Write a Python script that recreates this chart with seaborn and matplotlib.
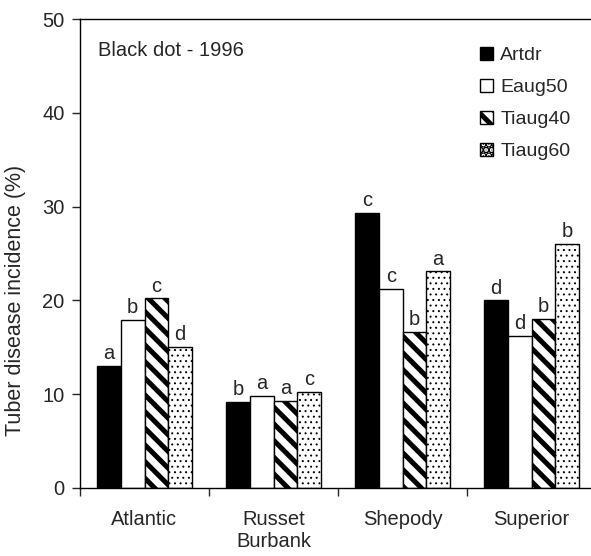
import matplotlib
matplotlib.use("Agg")
import matplotlib.pyplot as plt
import seaborn as sns
import pandas as pd

cultivars = ["Atlantic", "Russet\nBurbank", "Shepody", "Superior"]
treatments = ["Artdr", "Eaug50", "Tiaug40", "Tiaug60"]

artdr = [13.0, 9.2, 29.3, 20.0]
eaug50 = [17.9, 9.8, 21.2, 16.2]
tiaug40 = [20.2, 9.3, 16.6, 18.0]
tiaug60 = [15.0, 10.2, 23.1, 26.0]

letters_artdr = ["a", "b", "c", "d"]
letters_eaug50 = ["b", "a", "c", "d"]
letters_tiaug40 = ["c", "a", "b", "b"]
letters_tiaug60 = ["d", "c", "a", "b"]


def main():
    values = [artdr, eaug50, tiaug40, tiaug60]
    rows = []
    for t, vals in zip(treatments, values):
        for c, v in zip(cultivars, vals):
            rows.append({"cultivar": c, "treatment": t, "incidence": v})
    df = pd.DataFrame(rows)

    sns.set_style("ticks")
    plt.rcParams["font.family"] = ["Liberation Sans", "DejaVu Sans"]
    plt.rcParams["hatch.linewidth"] = 3.6

    fig = plt.figure(figsize=(5.91, 5.56), dpi=100)
    ax = fig.add_axes([80 / 591, 68.3 / 556, 516 / 591, 468.4 / 556])

    sns.barplot(data=df, x="cultivar", y="incidence", hue="treatment",
                order=cultivars, hue_order=treatments,
                palette=["black", "white", "white", "white"],
                width=0.73, edgecolor="black", linewidth=1,
                errorbar=None, ax=ax, legend=False)

    hatches = [None, None, "\\\\", "..."]
    for cont, h in zip(ax.containers, hatches):
        for bar in cont:
            if h:
                bar.set_hatch(h)
            if h == "..." and hasattr(bar, "set_hatch_linewidth"):
                bar.set_hatch_linewidth(0.7)

    letters = [letters_artdr, letters_eaug50, letters_tiaug40, letters_tiaug60]
    for cont, labs in zip(ax.containers, letters):
        ax.bar_label(cont, labels=labs, padding=2, fontsize=14.5)

    ax.set_ylim(0, 50)
    ax.set_xlim(-0.5, 3.5)
    ax.set_yticks(range(0, 51, 10))
    ax.set_xticks([-0.5, 0.5, 1.5, 2.5, 3.5])
    ax.set_xticklabels([])
    ax.set_xticks(range(4), minor=True)
    ax.set_xticklabels(cultivars, minor=True, fontsize=14.5)
    ax.tick_params(axis="x", which="minor", length=0, pad=16)
    ax.tick_params(axis="x", which="major", length=6, width=1, direction="out")
    ax.tick_params(axis="y", length=6, width=1, labelsize=14.5, pad=5)
    ax.set_xlabel("")
    ax.set_ylabel("Tuber disease incidence (%)", fontsize=15.5)
    ax.yaxis.set_label_coords(-0.105, 0.40)

    for side in ["left", "bottom", "top", "right"]:
        ax.spines[side].set_visible(True)
        ax.spines[side].set_color("black")
        ax.spines[side].set_linewidth(1)

    # text placed in pixel coords from top-left
    fig.text(98 / 591, 1 - 50 / 556, "Black dot - 1996", fontsize=14.5,
             va="center", ha="left")

    ax.legend(handles=ax.containers, labels=treatments, loc="upper left",
              bbox_to_anchor=(476 / 591, 1 - 43 / 556),
              bbox_transform=fig.transFigure,
              frameon=False, fontsize=14, handlelength=0.65,
              handleheight=0.65, handletextpad=0.4, labelspacing=0.75,
              borderaxespad=0, borderpad=0.2)

    fig.savefig("out.png", dpi=100)


if __name__ == "__main__":
    main()
